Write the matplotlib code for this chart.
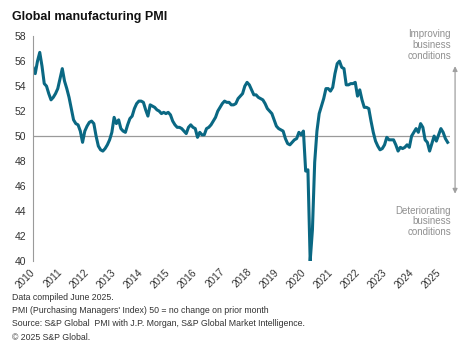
import numpy as np
import matplotlib
matplotlib.use("Agg")
import matplotlib.pyplot as plt
import matplotlib.transforms as mtransforms

# Monthly global manufacturing PMI, Jan 2010 - May 2025
pmi_2010 = [55.5, 55.0, 56.0, 56.7, 55.6, 54.2, 54.0, 53.4, 52.9, 53.1, 53.4, 53.8]
pmi_2011 = [54.6, 55.4, 54.4, 53.8, 53.1, 52.2, 51.3, 51.0, 50.9, 50.4, 49.5, 50.4]
pmi_2012 = [50.8, 51.1, 51.2, 51.0, 50.0, 49.2, 48.9, 48.8, 49.0, 49.3, 49.7, 50.3]
pmi_2013 = [51.5, 51.0, 51.3, 50.6, 50.4, 50.3, 50.9, 51.4, 51.6, 52.2, 52.6, 52.8]
pmi_2014 = [52.8, 52.7, 52.1, 51.6, 52.5, 52.4, 52.3, 52.1, 52.0, 51.8, 51.9, 51.8]
pmi_2015 = [51.9, 51.7, 51.2, 50.9, 50.7, 50.7, 50.6, 50.4, 50.2, 50.7, 50.9, 50.7]
pmi_2016 = [50.6, 49.9, 50.3, 50.1, 50.1, 50.6, 50.7, 50.9, 51.2, 51.5, 52.0, 52.3]
pmi_2017 = [52.6, 52.8, 52.7, 52.7, 52.5, 52.5, 52.6, 53.0, 53.2, 53.4, 54.0, 54.3]
pmi_2018 = [54.1, 53.7, 53.3, 53.3, 53.1, 53.0, 52.9, 52.6, 52.2, 52.0, 51.8, 51.3]
pmi_2019 = [50.8, 50.6, 50.5, 50.4, 49.8, 49.4, 49.3, 49.5, 49.7, 49.8, 50.3, 50.1]
pmi_2020 = [50.4, 47.2, 47.3, 40.0, 42.5, 47.9, 50.4, 51.8, 52.4, 53.0, 53.8, 53.8]
pmi_2021 = [53.6, 53.9, 55.0, 55.8, 56.0, 55.5, 55.4, 54.1, 54.1, 54.2, 54.2, 54.3]
pmi_2022 = [53.2, 53.7, 52.9, 52.3, 52.3, 52.2, 51.2, 50.3, 49.6, 49.2, 48.9, 49.0]
pmi_2023 = [49.3, 49.9, 49.7, 49.7, 49.7, 49.3, 48.8, 49.1, 49.0, 49.1, 49.3, 49.1]
pmi_2024 = [50.0, 50.3, 50.6, 50.3, 51.0, 50.7, 49.7, 49.5, 48.8, 49.4, 50.0, 49.6]
pmi_2025 = [50.1, 50.6, 50.3, 49.8, 49.5]

pmi = (pmi_2010 + pmi_2011 + pmi_2012 + pmi_2013 + pmi_2014 + pmi_2015
       + pmi_2016 + pmi_2017 + pmi_2018 + pmi_2019 + pmi_2020 + pmi_2021
       + pmi_2022 + pmi_2023 + pmi_2024 + pmi_2025)
months = 2010 + np.arange(len(pmi)) / 12.0

years = list(range(2010, 2026))
y_ticks = list(range(40, 60, 2))

plt.rcParams['font.family'] = ['Liberation Sans', 'DejaVu Sans']

fig = plt.figure(figsize=(4.62, 3.41), dpi=100)
ax = fig.add_axes([0.0714, 0.2346, 0.9026, 0.6594])

ax.axhline(50, color="#9a9a9a", lw=0.9, zorder=1)
ax.plot(months, pmi, color="#0a6883", lw=2.2, zorder=2, solid_joinstyle="round")

ax.set_ylim(40, 58)
ax.set_xlim(2010, 2025.42)
ax.set_yticks(y_ticks)
ax.set_xticks(years)
ax.set_xticklabels([])

# rotated year labels, placed by hand so they sit a little right/below the tick
trans = mtransforms.blended_transform_factory(ax.transData, ax.transAxes)
shift = mtransforms.ScaledTranslation(4 / 100, -6 / 100, fig.dpi_scale_trans)
for y in years:
    ax.text(y, 0, str(y), transform=trans + shift, rotation=45, ha="right", va="top",
            fontsize=7.2, color="#333333", clip_on=False)

for s in ["top", "right", "bottom"]:
    ax.spines[s].set_visible(False)
ax.spines["left"].set_color("#9a9a9a")
ax.spines["left"].set_linewidth(0.8)
ax.tick_params(axis="both", length=0, labelsize=7.5, colors="#333333")
ax.tick_params(axis="y", pad=5)

fig.text(0.026, 0.95, "Global manufacturing PMI", fontsize=9, fontweight="bold",
         color="#111111", va="center")

note_kw = dict(fontsize=7, color="#909090", ha="right", va="top", linespacing=1.1)
fig.text(0.976, 0.914, "Improving\nbusiness\nconditions", **note_kw)
fig.text(0.976, 0.397, "Deteriorating\nbusiness\nconditions", **note_kw)
ax.annotate("", xy=(0.985, 0.806), xytext=(0.985, 0.432), xycoords="figure fraction",
            textcoords="figure fraction",
            arrowprops=dict(arrowstyle="<|-|>", color="#a0a0a0", lw=0.9,
                            mutation_scale=7, shrinkA=0, shrinkB=0))

foot = ["Data compiled June 2025.",
        "PMI (Purchasing Managers' Index) 50 = no change on prior month",
        "Source: S&P Global  PMI with J.P. Morgan, S&P Global Market Intelligence.",
        "\u00a9 2025 S&P Global."]
for i, line in enumerate(foot):
    fig.text(0.026, 0.127 - i * 0.0385, line, fontsize=6.3, color="#333333", va="center")

fig.savefig("out.png", dpi=100)
